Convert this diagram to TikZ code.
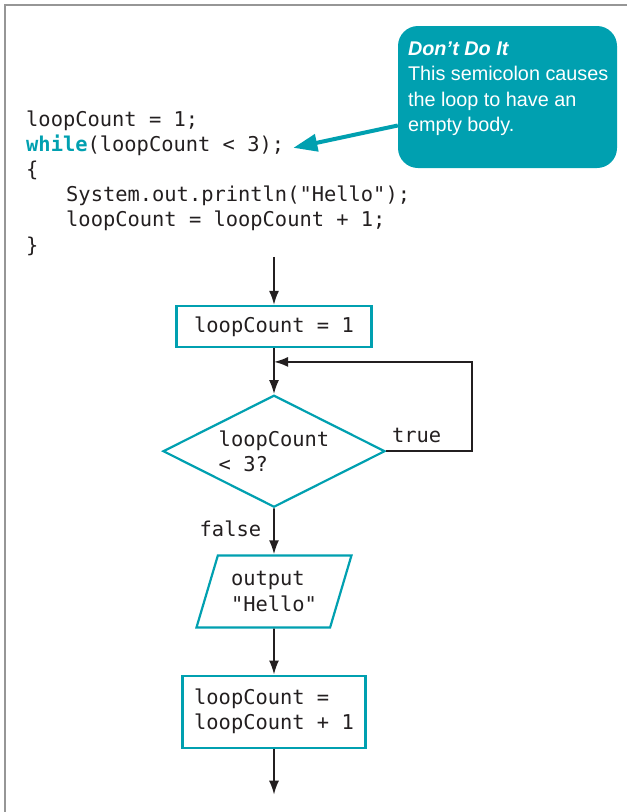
\documentclass[tikz,border=0pt]{standalone}
\usepackage{fontspec}
\setmainfont{Liberation Sans}
\setsansfont{Liberation Sans}
\setmonofont{DejaVu Sans Mono}
\usetikzlibrary{arrows.meta,positioning,calc,shapes.geometric}
\definecolor{flowteal}{RGB}{0,160,176}
\definecolor{inkblack}{RGB}{35,31,32}
\definecolor{framegray}{RGB}{150,150,150}
\newcommand{\codefont}{\ttfamily\fontsize{20.4}{25.3}\selectfont}
\newcommand{\notefont}{\sffamily\fontsize{19.8}{25.3}\selectfont}

\begin{document}
\begin{tikzpicture}[x=1pt,y=-1pt,>={Latex[length=14pt,width=10pt]},
 code/.style={anchor=base west,inner sep=0pt,font=\codefont,text=inkblack},
 procbox/.style={draw=flowteal,line width=2.2pt,font=\codefont,text=inkblack,align=left,inner sep=0pt,fill=white},
 decbox/.style={procbox,diamond,aspect=2,minimum width=222pt,minimum height=112pt},
 iobox/.style={procbox,trapezium,trapezium left angle=67.7,trapezium right angle=112.3,trapezium stretches=true,minimum width=155pt,minimum height=72pt},
 notebox/.style={fill=flowteal,rounded corners=20pt,minimum width=219pt,minimum height=142pt,inner sep=0pt},
 notetext/.style={font=\notefont,text=white,align=left,inner sep=0pt},
 noteptr/.style={-{Triangle[length=24pt,width=17pt]},line width=4pt,draw=flowteal},
 flow/.style={->,line width=1.8pt,draw=inkblack},
 lbl/.style={font=\codefont,text=inkblack,inner sep=0pt}]
\useasboundingbox (0,0) rectangle (627,812);
\draw[framegray,line width=2pt] (5,812) -- (5,5) -- (627,5);

% code listing
\node[code] (l1) at (26,126) {loopCount = 1;};
\node[code] (l2) at (26,151) {\textcolor{flowteal}{\bfseries while}(loopCount < 3);};
\node[code] (l3) at (26,176) {\{};
\node[code] (l4) at (66,201) {System.out.println("Hello");};
\node[code] (l5) at (66,226.5) {loopCount = loopCount + 1;};
\node[code] (l6) at (26,252) {\}};

% callout
\node[notebox] (tip) at (507.5,97) {};
\node[notetext,anchor=north west] (tiptext) at ($(tip.north west)+(10,16)$)
 {{\bfseries\itshape Don’t Do It}\\This semicolon causes\\the loop to have an\\empty body.};
\coordinate[right=9pt of l2] (semi);
\draw[noteptr] ($(tip.south west)!0.3!(tip.north west)$) -- ([yshift=-3pt]semi);

% flowchart
\node[procbox,minimum width=195pt,minimum height=41pt] (init) at (274,326.5) {loopCount = 1};
\node[decbox,below=46pt of init] (test) {loopCount\\< 3?};
\node[iobox,below=46pt of test] (show) {output\\"Hello"};
\node[procbox,minimum width=183pt,minimum height=72pt,below=46pt of show] (incr) {loopCount =\\loopCount + 1};
\coordinate[above=48pt of init] (entry);
\coordinate[below=46pt of incr] (exit);
\coordinate (back) at ($(init.south)!0.3!(test.north)$);
\draw[flow] (entry) -- (init);
\draw[flow] (init) -- (test);
\draw[flow] (test) -- node[lbl,left=12pt,pos=0.45] (no) {false} (show);
\draw[flow] (show) -- (incr);
\draw[flow] (incr) -- (exit);
\draw[flow] (test.east) -- node[lbl,pos=0,anchor=south west,xshift=5pt,yshift=8pt] (yes) {true} ++(86,0) |- (back);
\end{tikzpicture}
\end{document}
